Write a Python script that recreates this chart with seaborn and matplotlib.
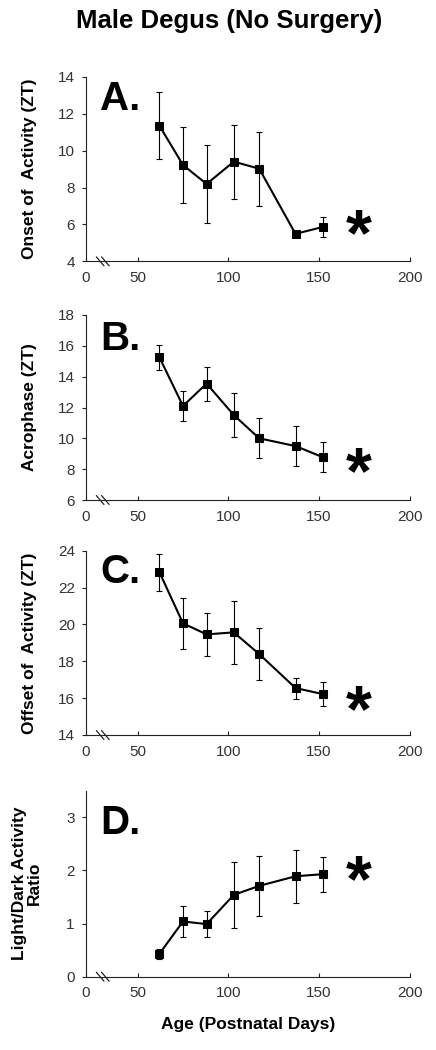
import numpy as np
import matplotlib
matplotlib.use('Agg')
import matplotlib.pyplot as plt
import matplotlib.transforms as mtransforms
import seaborn as sns

# ages (postnatal days) shared by all panels
age = [62, 75, 88, 103, 117, 137, 152]

onset = [11.35, 9.22, 8.19, 9.40, 9.02, 5.49, 5.86]
onset_err = [1.8, 2.07, 2.1, 2.0, 2.0, 0.1, 0.55]

acro = [15.26, 12.1, 13.55, 11.51, 10.0, 9.5, 8.78]
acro_err = [0.8, 1.0, 1.1, 1.4, 1.3, 1.3, 0.97]

offset = [22.84, 20.06, 19.46, 19.57, 18.39, 16.55, 16.22]
offset_err = [1.0, 1.4, 1.15, 1.7, 1.4, 0.57, 0.63]

ratio = [0.43, 1.04, 0.99, 1.54, 1.71, 1.89, 1.93]
ratio_err = [0.09, 0.3, 0.24, 0.62, 0.56, 0.5, 0.33]

x_ticks = [0, 50, 100, 150, 200]

panels = [
    ('A.', onset, onset_err, 'Onset of  Activity (ZT)', (4, 14), [4, 6, 8, 10, 12, 14], 5.9),
    ('B.', acro, acro_err, 'Acrophase (ZT)', (6, 18), [6, 8, 10, 12, 14, 16, 18], 8.3),
    ('C.', offset, offset_err, 'Offset of  Activity (ZT)', (14, 24), [14, 16, 18, 20, 22, 24], 15.8),
    ('D.', ratio, ratio_err, 'Light/Dark Activity\nRatio', (0, 3.5), [0, 1, 2, 3], 1.97),
]

sns.set_style('ticks')
plt.rcParams['font.family'] = ['Liberation Sans', 'DejaVu Sans']
plt.rcParams['text.color'] = 'black'
plt.rcParams['axes.labelcolor'] = 'black'

# x axis is broken between 0 and 50
r = 0.57
def fwd(x):
    x = np.asarray(x, dtype=float)
    return np.where(x < 50, x * r, 50 * r + (x - 50))
def inv(y):
    y = np.asarray(y, dtype=float)
    return np.where(y < 50 * r, y / r, y - 50 * r + 50)

fig = plt.figure(figsize=(4.36, 10.5), dpi=100)
boxes = [(0.7511, 0.1758), (0.5238, 0.1762), (0.3000, 0.1755), (0.0698, 0.1771)]
letter_y = [0.82, 0.81, 0.825, 0.77]

for i, (letter, vals, errs, ylab, ylim, yticks, star_y) in enumerate(panels):
    ax = fig.add_axes([0.197, boxes[i][0], 0.743, boxes[i][1]])
    ax.set_xscale('function', functions=(fwd, inv))
    ax.errorbar(age, vals, yerr=errs, fmt='none', ecolor='black',
                elinewidth=0.8, capsize=2.5, capthick=0.8, zorder=2)
    sns.lineplot(x=age, y=vals, ax=ax, color='black', linewidth=1.5,
                 marker='s', markersize=5.5, markeredgecolor='black', zorder=3)
    ax.set_xlim(0, 200)
    ax.set_ylim(*ylim)
    ax.set_xticks(x_ticks)
    ax.set_yticks(yticks)
    sns.despine(ax=ax)
    for s in ['left', 'bottom']:
        ax.spines[s].set_linewidth(0.8)
        ax.spines[s].set_color('#222222')
    ax.tick_params(axis='y', direction='out', length=3, width=0.8, pad=5,
                   labelsize=11, colors='#222222', labelcolor='#333333')
    ax.tick_params(axis='x', direction='in', length=3, width=0.8, pad=7,
                   labelsize=11, colors='#222222', labelcolor='#333333')
    ax.set_ylabel(ylab, fontsize=12.5, fontweight='bold', linespacing=1.0)
    ax.yaxis.set_label_coords(-0.15 if i < 3 else -0.135, 0.5)
    ax.set_xlabel('')
    ax.text(0.045, letter_y[i], letter, transform=ax.transAxes, fontsize=29,
            fontweight='bold', ha='left', va='baseline')
    # significance star, nudged down because the glyph sits high in its box
    star_tr = mtransforms.offset_copy(ax.transData, fig=fig, y=-12, units='dots')
    ax.text(172, star_y, '*', fontsize=48, fontweight='bold', ha='center',
            va='center', transform=star_tr)
    # axis break marks
    for cx in [0.044, 0.060]:
        ax.plot([cx - 0.0117, cx + 0.0117], [0.024, -0.024], color='#222222',
                linewidth=0.9, transform=ax.transAxes, clip_on=False)
    if i == 3:
        ax.set_xlabel('Age (Postnatal Days)', fontsize=12.5, fontweight='bold',
                      labelpad=12)

fig.text(0.526, 1 - 21 / 1050, 'Male Degus (No Surgery)', fontsize=18.5,
         fontweight='bold', ha='center', va='center')

fig.savefig('out.png', dpi=100)
